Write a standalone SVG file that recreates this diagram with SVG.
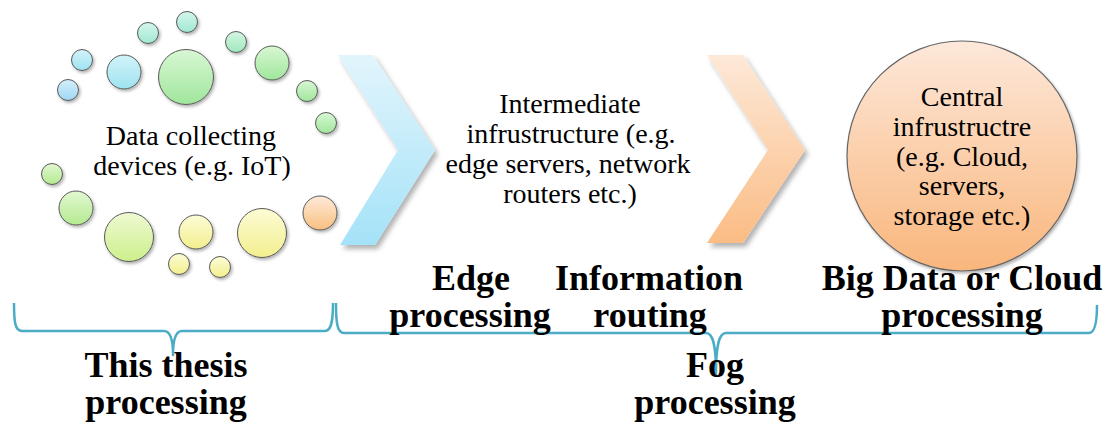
<svg xmlns="http://www.w3.org/2000/svg" width="1117" height="427" viewBox="0 0 1117 427">
  <defs>
    <linearGradient id="gBlue" x1="0" y1="0" x2="0" y2="1"><stop offset="0" stop-color="#d4eefb"/><stop offset="1" stop-color="#9fd8f3"/></linearGradient>
    <linearGradient id="gCyan" x1="0" y1="0" x2="0" y2="1"><stop offset="0" stop-color="#d2f3fa"/><stop offset="1" stop-color="#9ee2f0"/></linearGradient>
    <linearGradient id="gTeal" x1="0" y1="0" x2="0" y2="1"><stop offset="0" stop-color="#d4f6ee"/><stop offset="1" stop-color="#a0e8d2"/></linearGradient>
    <linearGradient id="gMint" x1="0" y1="0" x2="0" y2="1"><stop offset="0" stop-color="#d4f6e2"/><stop offset="1" stop-color="#a0e8bc"/></linearGradient>
    <linearGradient id="gGreen" x1="0" y1="0" x2="0" y2="1"><stop offset="0" stop-color="#d8f7d4"/><stop offset="1" stop-color="#a0e69c"/></linearGradient>
    <linearGradient id="gLime" x1="0" y1="0" x2="0" y2="1"><stop offset="0" stop-color="#e2f8d2"/><stop offset="1" stop-color="#b4ea90"/></linearGradient>
    <linearGradient id="gPale" x1="0" y1="0" x2="0" y2="1"><stop offset="0" stop-color="#eefad2"/><stop offset="1" stop-color="#cdef8c"/></linearGradient>
    <linearGradient id="gYellow" x1="0" y1="0" x2="0" y2="1"><stop offset="0" stop-color="#fcfcd6"/><stop offset="1" stop-color="#f3ef8e"/></linearGradient>
    <linearGradient id="gOrange" x1="0" y1="0" x2="0" y2="1"><stop offset="0" stop-color="#feeada"/><stop offset="1" stop-color="#f8c080"/></linearGradient>
    <linearGradient id="gCloud" x1="0" y1="0" x2="0" y2="1"><stop offset="0" stop-color="#fde8da"/><stop offset="1" stop-color="#f9b67c"/></linearGradient>
    <linearGradient id="gChevBlue" x1="0" y1="0" x2="0" y2="1"><stop offset="0" stop-color="#e2f5fc"/><stop offset="1" stop-color="#a4e2f8"/></linearGradient>
    <linearGradient id="gChevOrange" x1="0" y1="0" x2="0" y2="1"><stop offset="0" stop-color="#fde9d8"/><stop offset="1" stop-color="#fbbc84"/></linearGradient>
    <filter id="soft" x="-20%" y="-20%" width="150%" height="150%">
      <feDropShadow dx="1.5" dy="2" stdDeviation="1.5" flood-color="#000" flood-opacity="0.3"/>
    </filter>
    <filter id="chevShadow" x="-20%" y="-10%" width="150%" height="130%">
      <feDropShadow dx="3" dy="4" stdDeviation="2.5" flood-color="#000" flood-opacity="0.3"/>
    </filter>
  </defs>
  <style>
    .dot { stroke: #5a5a5a; stroke-width: 1; filter: url(#soft); }
    .txt { font-size: 28px; fill: #000; text-anchor: middle; }
    .lbl { font-size: 36px; font-weight: bold; fill: #000; text-anchor: middle; }
    .brace { fill: none; stroke: #4bacc6; stroke-width: 2.5; stroke-linejoin: round; }
  </style>

  <!-- Scattered device circles -->
  <g id="devices" font-family="Liberation Serif, Times New Roman, serif">
    <circle class="dot" cx="187" cy="22" r="10.5" fill="url(#gTeal)"/>
    <circle class="dot" cx="148" cy="33" r="10.5" fill="url(#gTeal)"/>
    <circle class="dot" cx="236" cy="42" r="10.5" fill="url(#gMint)"/>
    <circle class="dot" cx="82" cy="60" r="10.5" fill="url(#gCyan)"/>
    <circle class="dot" cx="124" cy="72" r="17" fill="url(#gCyan)"/>
    <circle class="dot" cx="186" cy="77" r="27.5" fill="url(#gGreen)"/>
    <circle class="dot" cx="272" cy="63" r="17" fill="url(#gGreen)"/>
    <circle class="dot" cx="68" cy="90" r="10.5" fill="url(#gBlue)"/>
    <circle class="dot" cx="307" cy="91" r="10.5" fill="url(#gGreen)"/>
    <circle class="dot" cx="326" cy="123" r="10.5" fill="url(#gGreen)"/>
    <circle class="dot" cx="52" cy="174" r="10.5" fill="url(#gLime)"/>
    <circle class="dot" cx="76" cy="208" r="17" fill="url(#gLime)"/>
    <circle class="dot" cx="129" cy="237" r="24.5" fill="url(#gPale)"/>
    <circle class="dot" cx="196" cy="232" r="17" fill="url(#gYellow)"/>
    <circle class="dot" cx="262" cy="233" r="24.5" fill="url(#gYellow)"/>
    <circle class="dot" cx="320" cy="213" r="17" fill="url(#gOrange)"/>
    <circle class="dot" cx="179" cy="264" r="10.5" fill="url(#gYellow)"/>
    <circle class="dot" cx="220" cy="267" r="10.5" fill="url(#gYellow)"/>
    <text class="txt" x="191" y="145">Data collecting</text>
    <text class="txt" x="192" y="175">devices (e.g. IoT)</text>
  </g>

  <!-- Stage chevrons -->
  <g id="chevrons">
    <polygon points="338,55 373,55 435,150 375,245 340,245 398,150" fill="url(#gChevBlue)" filter="url(#chevShadow)"/>
    <polygon points="707,55 743,55 805,150 743,243 707,243 768,150" fill="url(#gChevOrange)" filter="url(#chevShadow)"/>
  </g>

  <g id="intermediate" font-family="Liberation Serif, Times New Roman, serif">
    <text class="txt" x="570" y="113">Intermediate</text>
    <text class="txt" x="571" y="143">infrustructure (e.g.</text>
    <text class="txt" x="568" y="173">edge servers, network</text>
    <text class="txt" x="570" y="203">routers etc.)</text>
  </g>

  <g id="central" font-family="Liberation Serif, Times New Roman, serif">
    <circle cx="962" cy="156" r="115" fill="url(#gCloud)" stroke="#666" stroke-width="1.2" filter="url(#soft)"/>
    <text class="txt" x="962" y="106">Central</text>
    <text class="txt" x="962" y="136">infrustructre</text>
    <text class="txt" x="962" y="166">(e.g. Cloud,</text>
    <text class="txt" x="962" y="195">servers,</text>
    <text class="txt" x="962" y="225">storage etc.)</text>
  </g>

  <!-- Grouping braces -->
  <g id="connectors">
    <path class="brace" d="M14,303 C14,322 15,331 22,331 L164,331 C170,331 173,338 173,355 C173,338 176,331 182,331 L325,331 C331,331 333,322 333,303"/>
    <path class="brace" d="M336,303 C336,322 337,333 344,333 L706,333 C713,333 716,345 716,374 C716,345 719,333 726,333 L1089,333 C1095,333 1097,322 1097,305"/>
  </g>

  <g id="labels" font-family="Liberation Serif, Times New Roman, serif">
    <text class="lbl" x="471" y="290">Edge</text>
    <text class="lbl" x="470" y="327">processing</text>
    <text class="lbl" x="649" y="290">Information</text>
    <text class="lbl" x="650" y="327">routing</text>
    <text class="lbl" x="962" y="290">Big Data or Cloud</text>
    <text class="lbl" x="962" y="327">processing</text>
    <text class="lbl" x="166" y="377">This thesis</text>
    <text class="lbl" x="166" y="414">processing</text>
    <text class="lbl" x="715" y="377">Fog</text>
    <text class="lbl" x="715" y="414">processing</text>
  </g>
</svg>
